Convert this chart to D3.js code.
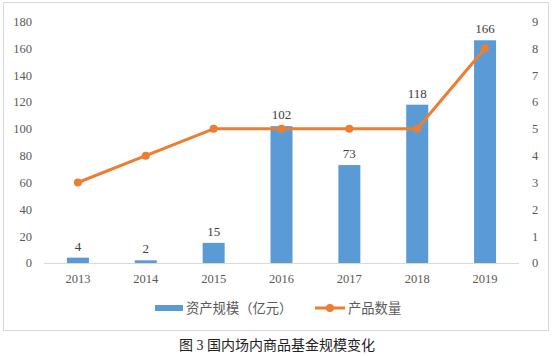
<!DOCTYPE html>
<html><head><meta charset="utf-8">
<script src="https://cdn.jsdelivr.net/npm/d3@7"></script>
<style>body{margin:0;background:#fff;}svg text{font-family:"Liberation Serif","Times New Roman","Noto Sans CJK SC",serif;}</style>
</head><body><svg id="c" width="554" height="356"></svg>
<script>
const years = ["2013","2014","2015","2016","2017","2018","2019"];
const assets = [4, 2, 15, 102, 73, 118, 166];
const counts = [3, 4, 5, 5, 5, 5, 8];
const leftTicks = [0,20,40,60,80,100,120,140,160,180];
const rightTicks = [0,1,2,3,4,5,6,7,8,9];
const seriesNames = ["资产规模（亿元）","产品数量"];
const caption = "图 3  国内场内商品基金规模变化";

const svg = d3.select("#c");
const blue = "#5B9BD5", orange = "#ED7D31", txt = "#595959";
svg.append("rect").attr("x",3.5).attr("y",2.5).attr("width",545).attr("height",328)
  .attr("fill","none").attr("stroke","#d9d9d9");

const x = d3.scaleBand().domain(years).range([44,519]);
const yL = d3.scaleLinear().domain([0,180]).range([263,21.5]);
const yR = d3.scaleLinear().domain([0,9]).range([263,21.5]);

svg.append("line").attr("x1",44).attr("x2",519).attr("y1",yL(0)+0.5).attr("y2",yL(0)+0.5)
  .attr("stroke","#d9d9d9").attr("stroke-width",1);

svg.append("g").selectAll("text").data(leftTicks).join("text")
  .attr("x",32).attr("y",d=>yL(d)).attr("dy","0.35em").attr("text-anchor","end")
  .attr("font-size",12.5).attr("fill",txt).text(d=>d);
svg.append("g").selectAll("text").data(rightTicks).join("text")
  .attr("x",532).attr("y",d=>yR(d)).attr("dy","0.35em").attr("text-anchor","start")
  .attr("font-size",12.5).attr("fill",txt).text(d=>d);
svg.append("g").selectAll("text").data(years).join("text")
  .attr("x",d=>x(d)+x.bandwidth()/2).attr("y",283).attr("text-anchor","middle")
  .attr("font-size",12.5).attr("fill",txt).text(d=>d);

const bw = 22;
svg.append("g").selectAll("rect").data(years).join("rect")
  .attr("x",d=>x(d)+x.bandwidth()/2-bw/2).attr("width",bw)
  .attr("y",(d,i)=>yL(assets[i])).attr("height",(d,i)=>yL(0)-yL(assets[i]))
  .attr("fill",blue);
svg.append("g").selectAll("text").data(years).join("text")
  .attr("x",d=>x(d)+x.bandwidth()/2).attr("y",(d,i)=>yL(assets[i])-7)
  .attr("text-anchor","middle").attr("font-size",13).attr("fill","#404040")
  .text((d,i)=>assets[i]);

const line = d3.line().x(d=>x(d[0])+x.bandwidth()/2).y(d=>yR(d[1]));
const pts = years.map((y,i)=>[y,counts[i]]);
svg.append("path").attr("d",line(pts)).attr("fill","none").attr("stroke",orange)
  .attr("stroke-width",3).attr("stroke-linejoin","round");
svg.append("g").selectAll("circle").data(pts).join("circle")
  .attr("cx",d=>x(d[0])+x.bandwidth()/2).attr("cy",d=>yR(d[1])).attr("r",4).attr("fill",orange);

const lg = svg.append("g");
lg.append("rect").attr("x",155).attr("y",305).attr("width",28).attr("height",6).attr("fill",blue);
lg.append("text").attr("x",186).attr("y",308).attr("dy","0.35em").attr("font-size",13.3).attr("fill",txt).text(seriesNames[0]);
lg.append("line").attr("x1",315).attr("x2",345).attr("y1",308).attr("y2",308).attr("stroke",orange).attr("stroke-width",3);
lg.append("circle").attr("cx",330).attr("cy",308).attr("r",4).attr("fill",orange);
lg.append("text").attr("x",348).attr("y",308).attr("dy","0.35em").attr("font-size",13.3).attr("fill",txt).text(seriesNames[1]);

svg.append("text").attr("x",277).attr("y",345).attr("dy","0.35em").attr("text-anchor","middle")
  .attr("font-size",14).attr("fill","#222").text(caption);
</script></body></html>
